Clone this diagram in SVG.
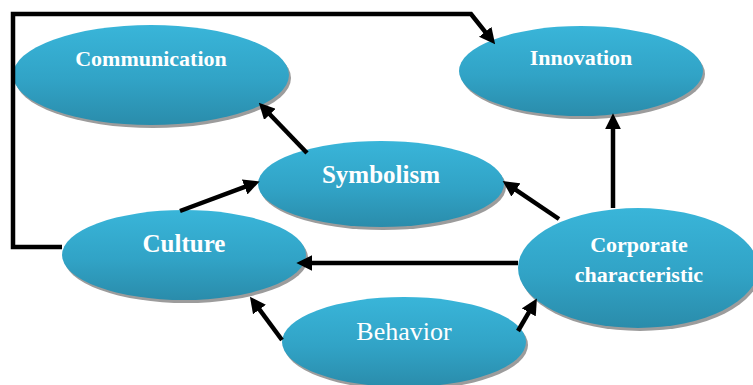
<svg xmlns="http://www.w3.org/2000/svg" width="753" height="385" viewBox="0 0 753 385">
  <defs>
    <linearGradient id="blueFill" x1="0" y1="0" x2="0" y2="1">
      <stop offset="0" stop-color="#39b5d9"/>
      <stop offset="0.55" stop-color="#31a3c6"/>
      <stop offset="1" stop-color="#2a8cab"/>
    </linearGradient>
    <marker id="arrow" markerUnits="userSpaceOnUse" markerWidth="16" markerHeight="16" viewBox="0 0 14 14" refX="2" refY="7" orient="auto">
      <path d="M0,0 L14,7 L0,14 z" fill="#000"/>
    </marker>
  </defs>
  <style>
    .shadow { fill: #9c9c9c; }
    .oval { fill: url(#blueFill); }
    .lbl { font-family: "Liberation Serif", "Times New Roman", serif; fill: #fff; text-anchor: middle; font-weight: bold; }
    .plain { font-weight: normal; }
    .conn { fill: none; stroke: #000; stroke-width: 4.5; marker-end: url(#arrow); }
  </style>
  <rect width="753" height="385" fill="#fff"/>

  <g id="communication">
    <ellipse class="shadow" cx="153" cy="78" rx="138" ry="50"/>
    <ellipse class="oval" cx="151" cy="75" rx="138" ry="50"/>
    <text class="lbl" x="151" y="66" font-size="22">Communication</text>
  </g>

  <g id="innovation">
    <ellipse class="shadow" cx="583" cy="74" rx="122" ry="45"/>
    <ellipse class="oval" cx="581" cy="71" rx="122" ry="45"/>
    <text class="lbl" x="581" y="65" font-size="22">Innovation</text>
  </g>

  <g id="symbolism">
    <ellipse class="shadow" cx="383" cy="187" rx="123" ry="43"/>
    <ellipse class="oval" cx="381" cy="184" rx="123" ry="43"/>
    <text class="lbl" x="381" y="183" font-size="25">Symbolism</text>
  </g>

  <g id="culture">
    <ellipse class="shadow" cx="186" cy="258" rx="122" ry="45"/>
    <ellipse class="oval" cx="184" cy="255" rx="122" ry="45"/>
    <text class="lbl" x="184" y="252" font-size="25">Culture</text>
  </g>

  <g id="corporate-characteristic">
    <ellipse class="shadow" cx="640" cy="271" rx="120" ry="60"/>
    <ellipse class="oval" cx="638" cy="268" rx="120" ry="60"/>
    <text class="lbl" x="639" y="252" font-size="22">Corporate</text>
    <text class="lbl" x="639" y="282" font-size="22">characteristic</text>
  </g>

  <g id="behavior">
    <ellipse class="shadow" cx="406" cy="345" rx="122" ry="45"/>
    <ellipse class="oval" cx="404" cy="342" rx="122" ry="45"/>
    <text class="lbl plain" x="404" y="340" font-size="26">Behavior</text>
  </g>

  <g id="connectors">
    <polyline class="conn" points="62,247 13,247 13,14 471,14 486.6,33.6"/>
    <line class="conn" x1="307" y1="153" x2="268.3" y2="112.7"/>
    <line class="conn" x1="180" y1="211" x2="246.8" y2="186.2"/>
    <line class="conn" x1="559" y1="219" x2="514" y2="188.7"/>
    <line class="conn" x1="613" y1="208" x2="613" y2="127"/>
    <line class="conn" x1="518" y1="263" x2="310" y2="263"/>
    <line class="conn" x1="282" y1="340" x2="258.1" y2="307.7"/>
    <line class="conn" x1="518" y1="331" x2="530" y2="310.4"/>
  </g>
</svg>
